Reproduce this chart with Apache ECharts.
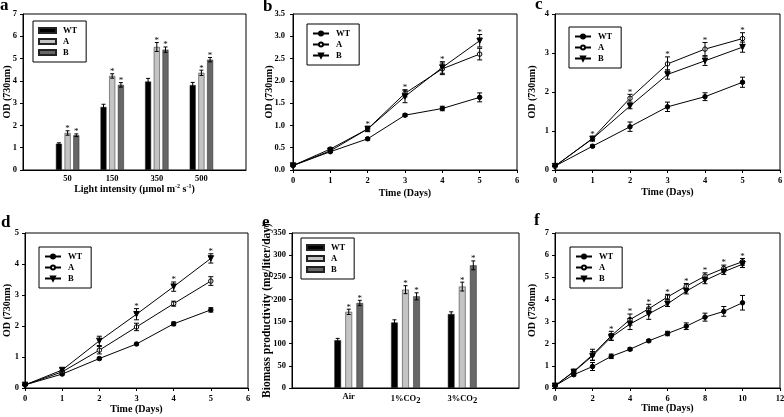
<!DOCTYPE html>
<html>
<head>
<meta charset="utf-8">
<script src="https://cdn.jsdelivr.net/npm/echarts@6/dist/echarts.min.js"></script>
<style>
html, body { margin: 0; padding: 0; background: #fff; }
.panel { position: absolute; }
</style>
</head>
<body>
<div id="pa" class="panel" style="left:0;top:0;width:262px;height:205px"></div>
<div id="pb" class="panel" style="left:262px;top:0;width:262px;height:205px"></div>
<div id="pc" class="panel" style="left:522px;top:0;width:262px;height:205px"></div>
<div id="pd" class="panel" style="left:0;top:205px;width:262px;height:212px"></div>
<div id="pe" class="panel" style="left:262px;top:205px;width:262px;height:212px"></div>
<div id="pf" class="panel" style="left:522px;top:205px;width:262px;height:212px"></div>
<script>
// ---- a: light intensity ----
var lightCats = ['50', '150', '350', '500'];
var lightWT = [1.18, 2.83, 3.97, 3.81];
var lightA = [1.66, 4.22, 5.52, 4.36];
var lightB = [1.56, 3.82, 5.40, 4.95];
var lightWTErr = [0.04, 0.12, 0.14, 0.12];
var lightAErr = [0.10, 0.10, 0.20, 0.12];
var lightBErr = [0.06, 0.10, 0.12, 0.10];

// ---- b ----
var daysB = [0, 1, 2, 3, 4, 5];
var bWT = [0.10, 0.41, 0.70, 1.23, 1.38, 1.63];
var bA = [0.10, 0.47, 0.92, 1.72, 2.27, 2.60];
var bB = [0.10, 0.43, 0.92, 1.65, 2.30, 2.90];
var bWTErr = [0.01, 0.02, 0.03, 0.03, 0.05, 0.10];
var bAErr = [0.01, 0.03, 0.05, 0.08, 0.13, 0.13];
var bBErr = [0.01, 0.03, 0.06, 0.14, 0.13, 0.14];
var bStars = [2, 3, 4, 5];

// ---- c ----
var daysC = [0, 1, 2, 3, 4, 5];
var cWT = [0.10, 0.61, 1.11, 1.62, 1.88, 2.25];
var cA = [0.10, 0.81, 1.84, 2.72, 3.10, 3.37];
var cB = [0.10, 0.80, 1.64, 2.45, 2.80, 3.15];
var cWTErr = [0.01, 0.03, 0.12, 0.12, 0.10, 0.13];
var cAErr = [0.01, 0.05, 0.10, 0.18, 0.17, 0.15];
var cBErr = [0.01, 0.06, 0.07, 0.12, 0.12, 0.13];
var cStars = [1, 2, 3, 4, 5];

// ---- d ----
var daysD = [0, 1, 2, 3, 4, 5];
var dWT = [0.10, 0.45, 0.95, 1.42, 2.07, 2.52];
var dA = [0.10, 0.52, 1.22, 1.97, 2.72, 3.45];
var dB = [0.10, 0.58, 1.52, 2.38, 3.27, 4.18];
var dWTErr = [0.01, 0.03, 0.04, 0.03, 0.06, 0.07];
var dAErr = [0.01, 0.04, 0.12, 0.12, 0.08, 0.14];
var dBErr = [0.01, 0.04, 0.15, 0.18, 0.15, 0.15];
var dStars = [3, 4, 5];

// ---- e: biomass productivity ----
var gasCats = ['Air', '1%CO2', '3%CO2'];
var gasWT = [108, 148, 167];
var gasA = [172, 222, 229];
var gasB = [192, 207, 277];
var gasWTErr = [4, 6, 5];
var gasAErr = [6, 9, 10];
var gasBErr = [6, 8, 10];

// ---- f ----
var daysF = [0, 1, 2, 3, 4, 5, 6, 7, 8, 9, 10];
var fWT = [0.10, 0.60, 0.97, 1.43, 1.75, 2.13, 2.46, 2.79, 3.20, 3.46, 3.85];
var fA = [0.10, 0.75, 1.50, 2.36, 3.09, 3.58, 4.11, 4.60, 5.05, 5.40, 5.70];
var fB = [0.10, 0.73, 1.45, 2.30, 2.89, 3.35, 3.80, 4.37, 4.86, 5.25, 5.59];
var fWTErr = [0.01, 0.05, 0.18, 0.10, 0.06, 0.05, 0.10, 0.15, 0.18, 0.22, 0.33];
var fAErr = [0.01, 0.06, 0.25, 0.20, 0.25, 0.20, 0.12, 0.12, 0.15, 0.15, 0.15];
var fBErr = [0.01, 0.05, 0.20, 0.15, 0.25, 0.25, 0.12, 0.12, 0.15, 0.12, 0.15];
var fStars = [3, 4, 5, 6, 7, 8, 9, 10];

var FONT = '"Liberation Serif", "Times New Roman", serif';

function labelStyle(size) {
    return { color: '#000', fontFamily: FONT, fontWeight: 'bold', fontSize: size };
}

/**
 * 面板字母
 */
function letter(ch, x, y) {
    return [{
        type: 'text', x: x, y: y,
        style: { text: ch, fill: '#000', fontFamily: FONT, fontWeight: 'bold', fontSize: 17, verticalAlign: 'top' }
    }];
}

function gridOpt(g) {
    return {
        left: g[0], top: g[1], width: g[2], height: g[3],
        show: true, borderColor: '#000', borderWidth: 1,
        outerBoundsMode: 'none'
    };
}

function legendOpt(pos, iw, ih, icon) {
    var l = {
        data: ['WT', 'A', 'B'], orient: 'vertical',
        left: pos[0], top: pos[1],
        borderColor: '#000', borderWidth: 1, borderRadius: 0,
        padding: [5, 9, 5, 5], itemWidth: iw, itemHeight: ih, itemGap: 2,
        selectedMode: false,
        textStyle: Object.assign(labelStyle(8.5), { lineHeight: 9, padding: [0, 0, 0, 2] })
    };
    if (icon) l.icon = icon;
    return l;
}

function axisBase(name, nameGap, showTick) {
    return {
        name: name, nameLocation: 'middle', nameGap: nameGap, nameMoveOverlap: false,
        nameTextStyle: labelStyle(10),
        axisLine: { show: true, onZero: false, lineStyle: { color: '#000', width: 1 } },
        axisTick: { show: showTick, length: 3, lineStyle: { color: '#000', width: 1 } },
        axisLabel: Object.assign(labelStyle(8.5), { margin: 6, showMinLabel: true, showMaxLabel: true }),
        splitLine: { show: false }
    };
}

// 误差线 (custom)
function errSeries(xs, vals, errs, off, cap) {
    return {
        type: 'custom', silent: true, z: 5,
        data: xs.map(function (x, i) { return [x, vals[i], errs[i]]; }),
        renderItem: function (params, api) {
            var hi = api.coord([api.value(0), api.value(1) + api.value(2)]);
            var lo = api.coord([api.value(0), api.value(1) - api.value(2)]);
            var cx = hi[0] + off;
            var st = { stroke: '#000', lineWidth: 1 };
            return {
                type: 'group', children: [
                    { type: 'line', shape: { x1: cx, y1: hi[1], x2: cx, y2: lo[1] }, style: st },
                    { type: 'line', shape: { x1: cx - cap, y1: hi[1], x2: cx + cap, y2: hi[1] }, style: st },
                    { type: 'line', shape: { x1: cx - cap, y1: lo[1], x2: cx + cap, y2: lo[1] }, style: st }
                ]
            };
        }
    };
}

// 星号
function starSeries(points, off) {
    return {
        type: 'custom', silent: true, z: 6,
        data: points,
        renderItem: function (params, api) {
            var p = api.coord([api.value(0), api.value(1)]);
            return {
                type: 'text', x: p[0] + off, y: p[1] - 2,
                style: { text: '*', fill: '#000', fontFamily: FONT, fontSize: 9, align: 'center', verticalAlign: 'middle' }
            };
        }
    };
}

function lineSeries(name, xs, vals, symbol, fill, size) {
    return {
        name: name, type: 'line', z: 4,
        data: xs.map(function (x, i) { return [x, vals[i]]; }),
        symbol: symbol, symbolSize: size, symbolRotate: symbol === 'triangle' ? 180 : 0,
        lineStyle: { color: '#000', width: 1 },
        itemStyle: { color: fill, borderColor: '#000', borderWidth: 1 }
    };
}

/**
 * 折线面板
 */
function linePanel(cfg) {
    var chart = echarts.init(document.getElementById(cfg.id));
    var stars = cfg.stars.map(function (d) {
        var i = cfg.days.indexOf(d);
        return [d, Math.max(cfg.a[i] + cfg.aErr[i], cfg.b[i] + cfg.bErr[i])];
    });
    var x = axisBase('Time (Days)', cfg.xGap, true);
    x.type = 'value'; x.min = 0; x.max = cfg.xMax; x.interval = cfg.xInt;
    var y = axisBase('OD (730nm)', cfg.yGap, true);
    y.type = 'value'; y.min = 0; y.max = cfg.yMax; y.interval = cfg.yInt;
    if (cfg.yFmt) y.axisLabel.formatter = cfg.yFmt;
    if (cfg.yMargin) y.axisLabel.margin = cfg.yMargin;
    chart.setOption({
        animation: false,
        graphic: letter(cfg.letter[0], cfg.letter[1], cfg.letter[2]),
        grid: gridOpt(cfg.grid),
        legend: legendOpt(cfg.legend, 16, 5),
        xAxis: x,
        yAxis: y,
        series: [
            lineSeries('WT', cfg.days, cfg.wt, 'circle', '#000', 4.5),
            lineSeries('A', cfg.days, cfg.a, 'circle', '#fff', 4.5),
            lineSeries('B', cfg.days, cfg.b, 'triangle', '#000', 5.5),
            errSeries(cfg.days, cfg.wt, cfg.wtErr, 0, 2.5),
            errSeries(cfg.days, cfg.a, cfg.aErr, 0, 2.5),
            errSeries(cfg.days, cfg.b, cfg.bErr, 0, 2.5),
            starSeries(stars, 0)
        ]
    });
}

/**
 * 柱状面板
 */
function barPanel(cfg) {
    var chart = echarts.init(document.getElementById(cfg.id));
    var idx = cfg.cats.map(function (c, i) { return i + 1; });
    var step = cfg.barW * (1 + cfg.barGap);
    var x = axisBase(cfg.xName, cfg.xGap, false);
    x.type = 'category'; x.boundaryGap = false;
    x.data = [''].concat(cfg.cats, [' ']);
    x.axisLabel.margin = 4;
    x.axisLabel.rich = { s: { fontFamily: FONT, fontWeight: 'bold', fontSize: 8.5, padding: [4, 0, 0, 0] } };
    x.axisLabel.formatter = function (v) { return v.replace('CO2', 'CO{s|2}'); };
    if (cfg.xRich) x.nameTextStyle.rich = cfg.xRich;
    var y = axisBase(cfg.yName, cfg.yGap, true);
    y.type = 'value'; y.min = 0; y.max = cfg.yMax; y.interval = cfg.yInt;
    if (cfg.yNameSize) y.nameTextStyle.fontSize = cfg.yNameSize;
    function bar(name, vals, color) {
        return {
            name: name, type: 'bar', barWidth: cfg.barW, barGap: (cfg.barGap * 100) + '%',
            data: idx.map(function (k, i) { return [k, vals[i]]; }),
            itemStyle: { color: color, borderColor: '#222', borderWidth: 0.5 }
        };
    }
    function tops(vals, errs) {
        return idx.map(function (k, i) { return [k, vals[i] + errs[i]]; });
    }
    chart.setOption({
        animation: false,
        graphic: letter(cfg.letter[0], cfg.letter[1], cfg.letter[2]),
        grid: gridOpt(cfg.grid),
        legend: legendOpt(cfg.legend, 17, 5, 'rect'),
        xAxis: x,
        yAxis: y,
        series: [
            bar('WT', cfg.wt, '#000'),
            bar('A', cfg.a, '#c4c4c4'),
            bar('B', cfg.b, '#676767'),
            errSeries(idx, cfg.wt, cfg.wtErr, -step, 2),
            errSeries(idx, cfg.a, cfg.aErr, 0, 2),
            errSeries(idx, cfg.b, cfg.bErr, step, 2),
            starSeries(tops(cfg.a, cfg.aErr), 0),
            starSeries(tops(cfg.b, cfg.bErr), step)
        ]
    });
}

barPanel({
    id: 'pa', letter: ['a', 0, -3], grid: [23, 14, 223, 156], legend: [33, 21],
    cats: lightCats, wt: lightWT, a: lightA, b: lightB,
    wtErr: lightWTErr, aErr: lightAErr, bErr: lightBErr,
    barW: 6, barGap: 0.45, yMax: 7, yInt: 1,
    yName: 'OD (730nm)', yGap: 11,
    xName: 'Light intensity (μmol m{sup|-2} s{sup|-1})', xGap: 13,
    xRich: { sup: { fontFamily: FONT, fontWeight: 'bold', fontSize: 6, padding: [0, 0, 6, 0] } }
});

linePanel({
    id: 'pb', letter: ['b', 1, -2], grid: [31, 14, 224, 156], legend: [45, 24],
    days: daysB, wt: bWT, a: bA, b: bB, wtErr: bWTErr, aErr: bAErr, bErr: bBErr, stars: bStars,
    xMax: 6, xInt: 1, yMax: 3.5, yInt: 0.5, yFmt: function (v) { return v.toFixed(1); },
    xGap: 18, yGap: 19, yMargin: 8
});

linePanel({
    id: 'pc', letter: ['c', 13, -4], grid: [33, 14, 225, 156], legend: [47, 27],
    days: daysC, wt: cWT, a: cA, b: cB, wtErr: cWTErr, aErr: cAErr, bErr: cBErr, stars: cStars,
    xMax: 6, xInt: 1, yMax: 4, yInt: 1,
    xGap: 17, yGap: 18
});

linePanel({
    id: 'pd', letter: ['d', 1, 9], grid: [25, 28, 223, 155], legend: [39, 42],
    days: daysD, wt: dWT, a: dA, b: dB, wtErr: dWTErr, aErr: dAErr, bErr: dBErr, stars: dStars,
    xMax: 6, xInt: 1, yMax: 5, yInt: 1,
    xGap: 16, yGap: 13
});

barPanel({
    id: 'pe', letter: ['e', 0, 9], grid: [30, 28, 227, 155], legend: [39, 33],
    cats: gasCats, wt: gasWT, a: gasA, b: gasB,
    wtErr: gasWTErr, aErr: gasAErr, bErr: gasBErr,
    barW: 6.7, barGap: 0.65, yMax: 350, yInt: 50,
    yName: 'Biomass productivity (mg/liter/day)', yGap: 19, yNameSize: 11.5,
    xName: '', xGap: 10
});

linePanel({
    id: 'pf', letter: ['f', 12, 7], grid: [33, 28, 225, 155], legend: [48, 42],
    days: daysF, wt: fWT, a: fA, b: fB, wtErr: fWTErr, aErr: fAErr, bErr: fBErr, stars: fStars,
    xMax: 12, xInt: 2, yMax: 7, yInt: 1,
    xGap: 15, yGap: 18
});
</script>
</body>
</html>
